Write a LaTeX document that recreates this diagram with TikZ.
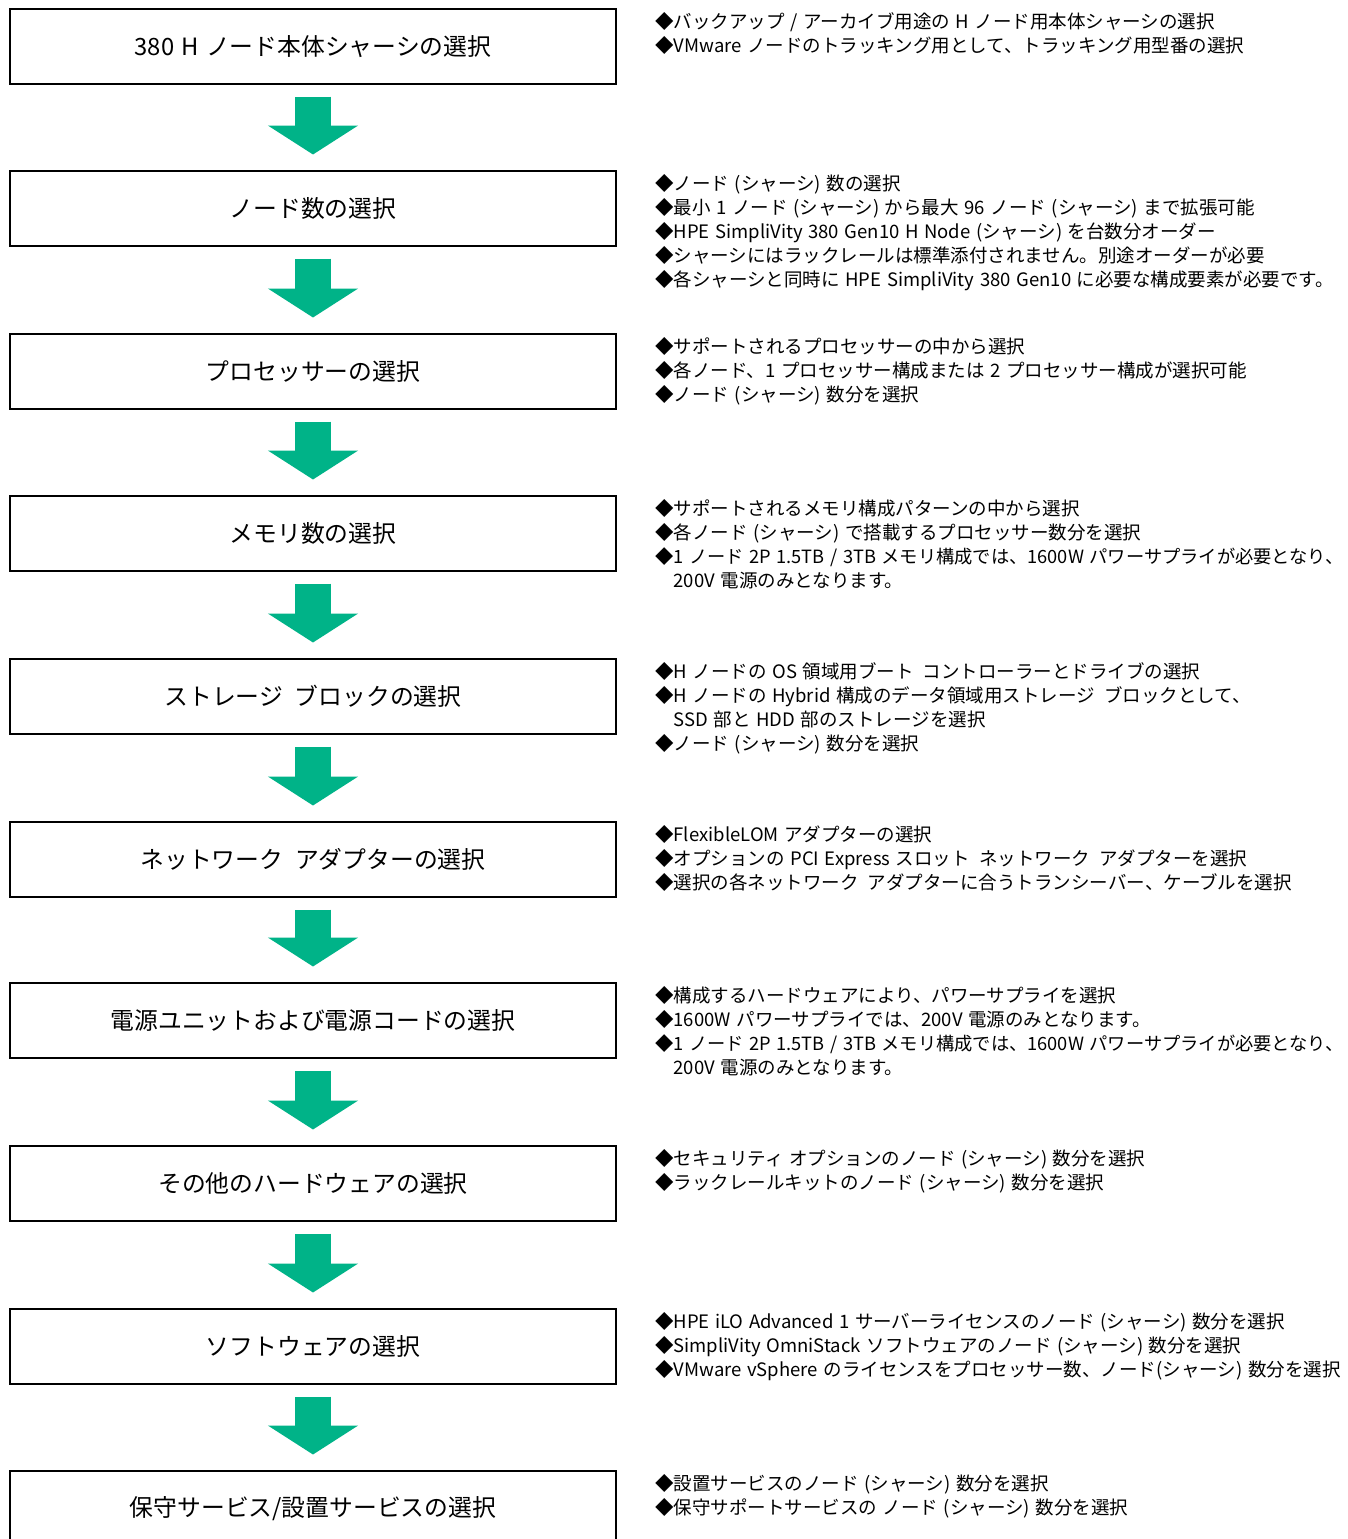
\documentclass[tikz,border=0pt]{standalone}
\usepackage{fontspec}
\setmainfont{Noto Sans CJK JP}[WordSpace=1.35]
\usetikzlibrary{arrows.meta,calc}
\definecolor{hpegreen}{HTML}{00B388}
\tikzset{
  stepbox/.style={draw=black, line width=2pt, minimum width=606pt, minimum height=75pt,
    inner sep=0pt, font=\fontsize{23.8}{27}\selectfont},
  info/.style={anchor=base west, inner sep=0pt, font=\fontsize{18.5}{24}\selectfont},
  flowarrow/.style={draw=hpegreen, line width=36pt, -{Triangle[width=89pt,length=29pt]},
    shorten <=11.5pt, shorten >=15.5pt},
}
\newcommand\infoblock[3]{%
  \foreach \txt [count=\i] in {#3}{%
    \node[info] (#1-\i) at (655,{#2+19+24*(\i-1)}) {\txt};}}
\newcommand\ind{\hphantom{◆}}
\newcommand\longln[1]{{\fontsize{18.25}{24}\selectfont #1}}
\begin{document}
\begin{tikzpicture}[x=1pt,y=-1pt]
\useasboundingbox (0,0) rectangle (1347,1539);
\clip (0,0) rectangle (1347,1539);
\fill[white] (0,0) rectangle (1347,1539);

\node[stepbox] (b1)  at (313,46.5)   {380 H ノード本体シャーシの選択};
\node[stepbox] (b2)  at (313,208.5)  {ノード数の選択};
\node[stepbox] (b3)  at (313,371.5)  {プロセッサーの選択};
\node[stepbox] (b4)  at (313,533.5)  {メモリ数の選択};
\node[stepbox] (b5)  at (313,696.5)  {ストレージ\hspace{0.5em}ブロックの選択};
\node[stepbox] (b6)  at (313,859.5)  {ネットワーク\hspace{0.5em}アダプターの選択};
\node[stepbox] (b7)  at (313,1020.5) {電源ユニットおよび電源コードの選択};
\node[stepbox] (b8)  at (313,1183.5) {その他のハードウェアの選択};
\node[stepbox] (b9)  at (313,1346.5) {ソフトウェアの選択};
\node[stepbox] (b10) at (313,1508.5) {保守サービス/設置サービスの選択};

\draw[flowarrow] (b1) -- (b2);
\draw[flowarrow] (b2) -- (b3);
\draw[flowarrow] (b3) -- (b4);
\draw[flowarrow] (b4) -- (b5);
\draw[flowarrow] (b5) -- (b6);
\draw[flowarrow] (b6) -- (b7);
\draw[flowarrow] (b7) -- (b8);
\draw[flowarrow] (b8) -- (b9);
\draw[flowarrow] (b9) -- (b10);

\infoblock{t1}{9}{{◆バックアップ / アーカイブ用途の H ノード用本体シャーシの選択},
  {◆VMware ノードのトラッキング用として、トラッキング用型番の選択}}
\infoblock{t2}{171}{{◆ノード (シャーシ) 数の選択},
  {◆最小 1 ノード (シャーシ) から最大 96 ノード (シャーシ) まで拡張可能},
  {◆HPE SimpliVity 380 Gen10 H Node (シャーシ) を台数分オーダー},
  {◆シャーシにはラックレールは標準添付されません。別途オーダーが必要},
  {◆各シャーシと同時に HPE SimpliVity 380 Gen10 に必要な構成要素が必要です。}}
\infoblock{t3}{334}{{◆サポートされるプロセッサーの中から選択},
  {◆各ノード、1 プロセッサー構成または 2 プロセッサー構成が選択可能},
  {◆ノード (シャーシ) 数分を選択}}
\infoblock{t4}{496}{{◆サポートされるメモリ構成パターンの中から選択},
  {◆各ノード (シャーシ) で搭載するプロセッサー数分を選択},
  {\longln{◆1 ノード 2P 1.5TB / 3TB メモリ構成では、1600W パワーサプライが必要となり、}},
  {\ind 200V 電源のみとなります。}}
\infoblock{t5}{659}{{◆H ノードの OS 領域用ブート\hspace{0.5em}コントローラーとドライブの選択},
  {◆H ノードの Hybrid 構成のデータ領域用ストレージ\hspace{0.5em}ブロックとして、},
  {\ind SSD 部と HDD 部のストレージを選択},
  {◆ノード (シャーシ) 数分を選択}}
\infoblock{t6}{822}{{◆FlexibleLOM アダプターの選択},
  {◆オプションの PCI Express スロット\hspace{0.5em}ネットワーク\hspace{0.5em}アダプターを選択},
  {◆選択の各ネットワーク\hspace{0.5em}アダプターに合うトランシーバー、ケーブルを選択}}
\infoblock{t7}{983}{{◆構成するハードウェアにより、パワーサプライを選択},
  {◆1600W パワーサプライでは、200V 電源のみとなります。},
  {\longln{◆1 ノード 2P 1.5TB / 3TB メモリ構成では、1600W パワーサプライが必要となり、}},
  {\ind 200V 電源のみとなります。}}
\infoblock{t8}{1146}{{◆セキュリティ\hspace{0.3em}オプションのノード (シャーシ) 数分を選択},
  {◆ラックレールキットのノード (シャーシ) 数分を選択}}
\infoblock{t9}{1309}{{◆HPE iLO Advanced 1 サーバーライセンスのノード (シャーシ) 数分を選択},
  {◆SimpliVity OmniStack ソフトウェアのノード (シャーシ) 数分を選択},
  {◆VMware vSphere のライセンスをプロセッサー数、ノード(シャーシ) 数分を選択}}
\infoblock{t10}{1471}{{◆設置サービスのノード (シャーシ) 数分を選択},
  {◆保守サポートサービスの ノード (シャーシ) 数分を選択}}
\end{tikzpicture}
\end{document}
